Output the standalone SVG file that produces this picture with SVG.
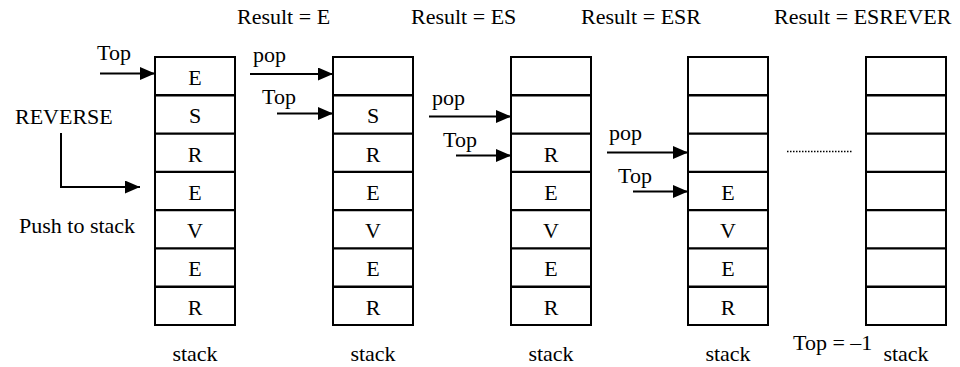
<svg xmlns="http://www.w3.org/2000/svg" width="960" height="367" viewBox="0 0 960 367">
<style>
text{font-family:"Liberation Serif","Times New Roman",serif;font-size:22px;fill:#000}
.c{text-anchor:middle}
.box{fill:#fff;stroke:#000;stroke-width:2}
.div{stroke:#000;stroke-width:2.4}
.arr{stroke:#000;stroke-width:2;fill:none;marker-end:url(#ah)}
.dot{stroke:#000;stroke-width:1.5;stroke-dasharray:1.5 1.5}
</style>
<defs>
<marker id="ah" markerUnits="userSpaceOnUse" markerWidth="16" markerHeight="14" refX="15" refY="6.5" orient="auto">
<path d="M0,0 L15,6.5 L0,13 Z" fill="#000"/>
</marker>
<g id="cells">
<rect class="box" x="0" y="0" width="80" height="268"/>
<line class="div" x1="0" y1="38.3" x2="80" y2="38.3"/>
<line class="div" x1="0" y1="76.6" x2="80" y2="76.6"/>
<line class="div" x1="0" y1="114.9" x2="80" y2="114.9"/>
<line class="div" x1="0" y1="153.1" x2="80" y2="153.1"/>
<line class="div" x1="0" y1="191.4" x2="80" y2="191.4"/>
<line class="div" x1="0" y1="229.7" x2="80" y2="229.7"/>
</g>
</defs>

<g id="stack1">
<use href="#cells" x="155" y="57"/>
<text class="c" x="195" y="85">E</text>
<text class="c" x="195" y="123.3">S</text>
<text class="c" x="195" y="161.6">R</text>
<text class="c" x="195" y="199.9">E</text>
<text class="c" x="195" y="238.1">V</text>
<text class="c" x="195" y="276.4">E</text>
<text class="c" x="195" y="314.7">R</text>
<text class="c" x="195" y="361">stack</text>
</g>

<g id="stack2">
<use href="#cells" x="333" y="57"/>
<text class="c" x="373" y="123.3">S</text>
<text class="c" x="373" y="161.6">R</text>
<text class="c" x="373" y="199.9">E</text>
<text class="c" x="373" y="238.1">V</text>
<text class="c" x="373" y="276.4">E</text>
<text class="c" x="373" y="314.7">R</text>
<text class="c" x="373" y="361">stack</text>
</g>

<g id="stack3">
<use href="#cells" x="511" y="57"/>
<text class="c" x="551" y="161.6">R</text>
<text class="c" x="551" y="199.9">E</text>
<text class="c" x="551" y="238.1">V</text>
<text class="c" x="551" y="276.4">E</text>
<text class="c" x="551" y="314.7">R</text>
<text class="c" x="551" y="361">stack</text>
</g>

<g id="stack4">
<use href="#cells" x="688" y="57"/>
<text class="c" x="728" y="199.9">E</text>
<text class="c" x="728" y="238.1">V</text>
<text class="c" x="728" y="276.4">E</text>
<text class="c" x="728" y="314.7">R</text>
<text class="c" x="728" y="361">stack</text>
</g>

<g id="stack5">
<use href="#cells" x="866" y="57"/>
<text class="c" x="906" y="361">stack</text>
</g>

<g id="labels">
<text x="237" y="24">Result = E</text>
<text x="411" y="24">Result = ES</text>
<text x="581" y="24">Result = ESR</text>
<text x="774" y="24">Result = ESREVER</text>
<text x="15" y="124">REVERSE</text>
<text x="19" y="233">Push to stack</text>
<text x="97" y="60">Top</text>
<text x="253" y="62">pop</text>
<text x="262" y="104">Top</text>
<text x="432" y="105">pop</text>
<text x="443" y="147">Top</text>
<text x="609" y="140">pop</text>
<text x="618" y="183">Top</text>
<text x="793" y="350">Top = –1</text>
</g>

<g id="connectors">
<line class="arr" x1="100" y1="73.5" x2="155" y2="73.5"/>
<polyline class="arr" points="61,133 61,187 140,187"/>
<line class="arr" x1="250" y1="74" x2="333" y2="74"/>
<line class="arr" x1="277" y1="113.5" x2="333" y2="113.5"/>
<line class="arr" x1="429" y1="116.5" x2="511" y2="116.5"/>
<line class="arr" x1="456" y1="155.5" x2="511" y2="155.5"/>
<line class="arr" x1="607" y1="152.5" x2="688" y2="152.5"/>
<line class="arr" x1="633" y1="191.5" x2="688" y2="191.5"/>
<line class="dot" x1="787" y1="151.5" x2="852" y2="151.5"/>
</g>
</svg>
